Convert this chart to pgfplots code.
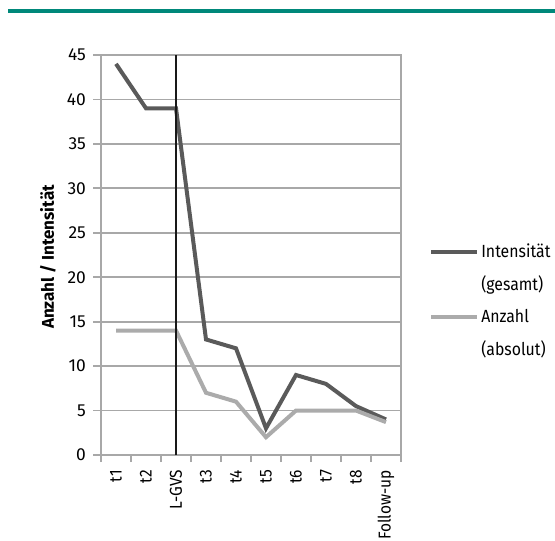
\documentclass[border=0pt]{standalone}
\usepackage{fontspec}
\setmainfont{Fira Sans}
\newfontfamily\condensed{Fira Sans}[FakeStretch=0.9]
\usepackage{pgfplots}
\pgfplotsset{compat=1.18}
\definecolor{tealrule}{HTML}{00887A}
\definecolor{darkline}{HTML}{5A5A5A}
\definecolor{lightline}{HTML}{ABABAB}
\definecolor{gridc}{HTML}{A8A8A8}
\begin{document}
\begin{tikzpicture}
\path[use as bounding box] (0,0) rectangle (277.5pt,270pt);
\draw[tealrule, line width=1.6pt] (4pt,264.5pt) -- (277.5pt,264.5pt);
\begin{axis}[
  at={(50.5pt,42.5pt)}, anchor=south west,
  scale only axis, width=150pt, height=200pt,
  xmin=-0.5, xmax=9.5, ymin=0, ymax=45,
  ytick={0,5,...,45},
  xtick={0,...,9},
  xticklabels={t1,t2,L-GVS,t3,t4,t5,t6,t7,t8,Follow-up},
  minor xtick={-0.5,0.5,...,9.5},
  major x tick style={draw=none},
  tick pos=left,
  tick align=outside,
  major tick length=4pt, minor tick length=3.5pt,
  xticklabel style={rotate=90, anchor=east, font=\condensed\fontsize{8.6}{9}\selectfont},
  yticklabel style={font=\fontsize{8.7}{9}\selectfont},
  /pgf/number format/assume math mode=true,
  axis line style={gridc, line width=0.9pt},
  ymajorgrids, grid style={gridc, line width=0.9pt},
  tick style={gridc, line width=0.9pt},
  ylabel={\bfseries Anzahl / Intensität},
  ylabel style={at={(rel axis cs:0,0.495)}, yshift=26.5pt, anchor=center, font=\fontsize{8.5}{9}\selectfont},
  legend style={draw=none, fill=none, at={(1.073,0.385)}, anchor=west,
    legend cell align=left, row sep=6pt,
    nodes={align=left, inner sep=1pt, font=\condensed\fontsize{8.8}{16.5}\selectfont}},
  legend image code/.code={\draw[#1] (0pt,8.25pt) -- (23pt,8.25pt);},
]
\addplot[darkline, line width=2pt] coordinates {
 (0,44) (1,39) (2,39) (3,13) (4,12) (5,3) (6,9) (7,8) (8,5.5) (9,4)};
\addlegendentry{Intensität\\(gesamt)}
\addplot[lightline, line width=2pt] coordinates {
 (0,14) (1,14) (2,14) (3,7) (4,6) (5,2) (6,5) (7,5) (8,5) (9,3.7)};
\addlegendentry{Anzahl\\(absolut)}
\addplot[black!90, line width=0.8pt, forget plot] coordinates {(2,0) (2,45)};
\end{axis}
\end{tikzpicture}
\end{document}
